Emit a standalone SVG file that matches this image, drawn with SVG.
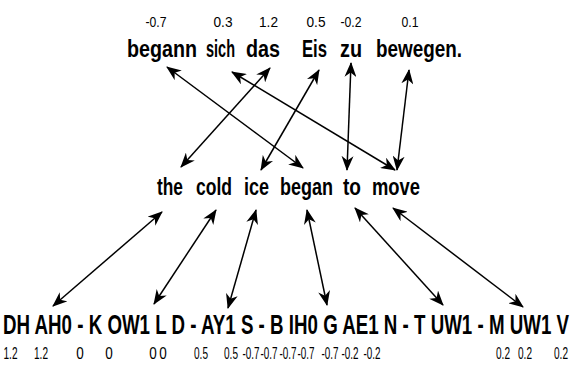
<svg xmlns="http://www.w3.org/2000/svg" width="577" height="370" viewBox="0 0 577 370">
<style>
.w{font-family:"Liberation Sans Narrow","Liberation Sans",Arial,sans-serif;font-weight:bold;font-size:23.5px;fill:#000}
.p{font-family:"Liberation Sans Narrow","Liberation Sans",Arial,sans-serif;font-weight:bold;font-size:27px;fill:#000}
.n{font-family:"Liberation Sans Narrow","Liberation Sans",Arial,sans-serif;font-size:15px;fill:#000;text-anchor:middle}
.m{font-family:"Liberation Sans Narrow","Liberation Sans",Arial,sans-serif;font-size:16px;fill:#000;text-anchor:middle}
.c line{stroke:#000;stroke-width:1.5;marker-start:url(#ah);marker-end:url(#ah)}
</style>
<defs>
<marker id="ah" markerUnits="userSpaceOnUse" markerWidth="15" markerHeight="12" refX="14" refY="6" orient="auto-start-reverse" viewBox="0 0 15 12">
<path d="M0,0 L15,6 L0,12 L4.5,6 z" fill="#000"/>
</marker>
</defs>
<g id="german">
<text class="n" x="156" y="27" textLength="21" lengthAdjust="spacingAndGlyphs">-0.7</text>
<text class="n" x="223" y="27" textLength="19" lengthAdjust="spacingAndGlyphs">0.3</text>
<text class="n" x="268.5" y="27" textLength="19" lengthAdjust="spacingAndGlyphs">1.2</text>
<text class="n" x="316" y="27" textLength="19" lengthAdjust="spacingAndGlyphs">0.5</text>
<text class="n" x="351" y="27" textLength="21" lengthAdjust="spacingAndGlyphs">-0.2</text>
<text class="n" x="410" y="27" textLength="17" lengthAdjust="spacingAndGlyphs">0.1</text>
<text id="w-begann" class="w" x="127" y="57" textLength="70" lengthAdjust="spacingAndGlyphs">begann</text>
<text id="w-sich" class="w" x="206" y="57" textLength="29" lengthAdjust="spacingAndGlyphs">sich</text>
<text id="w-das" class="w" x="246" y="57" textLength="34" lengthAdjust="spacingAndGlyphs">das</text>
<text id="w-Eis" class="w" x="302" y="57" textLength="25" lengthAdjust="spacingAndGlyphs">Eis</text>
<text id="w-zu" class="w" x="340" y="57" textLength="22" lengthAdjust="spacingAndGlyphs">zu</text>
<text id="w-bewegen" class="w" x="376" y="57" textLength="86" lengthAdjust="spacingAndGlyphs">bewegen.</text>
</g>
<g id="english">
<text id="w-the" class="w" x="157" y="195" textLength="26" lengthAdjust="spacingAndGlyphs">the</text>
<text id="w-cold" class="w" x="196" y="195" textLength="36" lengthAdjust="spacingAndGlyphs">cold</text>
<text id="w-ice" class="w" x="244" y="195" textLength="25" lengthAdjust="spacingAndGlyphs">ice</text>
<text id="w-began" class="w" x="280" y="195" textLength="53" lengthAdjust="spacingAndGlyphs">began</text>
<text id="w-to" class="w" x="343" y="195" textLength="18" lengthAdjust="spacingAndGlyphs">to</text>
<text id="w-move" class="w" x="372" y="195" textLength="48" lengthAdjust="spacingAndGlyphs">move</text>
</g>
<g id="phonemes">
<text class="p" x="3" y="334" textLength="566" lengthAdjust="spacingAndGlyphs">DH AH0 - K OW1 L D - AY1 S - B IH0 G AE1 N - T UW1 - M UW1 V</text>
<text class="m" x="10.5" y="359" textLength="14" lengthAdjust="spacingAndGlyphs">1.2</text>
<text class="m" x="41" y="359" textLength="14" lengthAdjust="spacingAndGlyphs">1.2</text>
<text class="m" x="80" y="359" textLength="7.5" lengthAdjust="spacingAndGlyphs">0</text>
<text class="m" x="109" y="359" textLength="7.5" lengthAdjust="spacingAndGlyphs">0</text>
<text class="m" x="153" y="359" textLength="7.5" lengthAdjust="spacingAndGlyphs">0</text>
<text class="m" x="163" y="359" textLength="7.5" lengthAdjust="spacingAndGlyphs">0</text>
<text class="m" x="201" y="359" textLength="14" lengthAdjust="spacingAndGlyphs">0.5</text>
<text class="m" x="231" y="359" textLength="14" lengthAdjust="spacingAndGlyphs">0.5</text>
<text class="m" x="251" y="359" textLength="17" lengthAdjust="spacingAndGlyphs">-0.7</text>
<text class="m" x="269" y="359" textLength="17" lengthAdjust="spacingAndGlyphs">-0.7</text>
<text class="m" x="288" y="359" textLength="17" lengthAdjust="spacingAndGlyphs">-0.7</text>
<text class="m" x="306" y="359" textLength="17" lengthAdjust="spacingAndGlyphs">-0.7</text>
<text class="m" x="330" y="359" textLength="17" lengthAdjust="spacingAndGlyphs">-0.7</text>
<text class="m" x="350" y="359" textLength="17" lengthAdjust="spacingAndGlyphs">-0.2</text>
<text class="m" x="372" y="359" textLength="17" lengthAdjust="spacingAndGlyphs">-0.2</text>
<text class="m" x="503" y="359" textLength="14" lengthAdjust="spacingAndGlyphs">0.2</text>
<text class="m" x="525" y="359" textLength="14" lengthAdjust="spacingAndGlyphs">0.2</text>
<text class="m" x="561" y="359" textLength="14" lengthAdjust="spacingAndGlyphs">0.2</text>
</g>
<g id="connectors" class="c">
<line x1="167" y1="67" x2="303" y2="168"/>
<line x1="232" y1="72" x2="395" y2="170"/>
<line x1="270" y1="68" x2="181" y2="167"/>
<line x1="319" y1="70" x2="261" y2="170"/>
<line x1="351" y1="63" x2="347" y2="170"/>
<line x1="409" y1="70" x2="397" y2="170"/>
<line x1="162" y1="212" x2="53" y2="306"/>
<line x1="216" y1="210" x2="154" y2="304"/>
<line x1="256" y1="210" x2="228" y2="308"/>
<line x1="307" y1="210" x2="327" y2="305"/>
<line x1="355" y1="208" x2="443" y2="305"/>
<line x1="393" y1="208" x2="523" y2="307"/>
</g>
</svg>
